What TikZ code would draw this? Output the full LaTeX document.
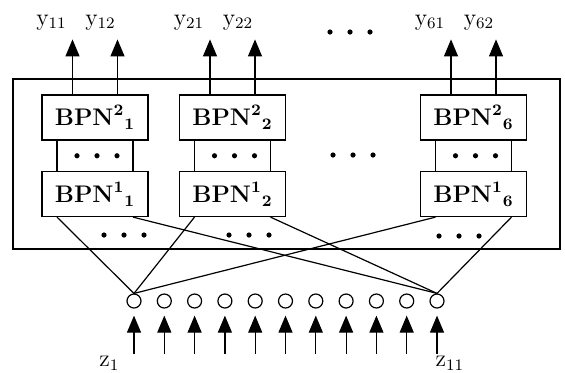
\documentclass[tikz,border=0pt]{standalone}
\usepackage{amsmath}
\usepackage{amssymb}
\usetikzlibrary{arrows.meta,calc}

\newcommand{\bpnlabel}[2]{$\mathbf{BPN}^{\mathbf{#1}}{}_{\mathbf{#2}}$}
\newcommand{\dotrow}[1]{\foreach \d in {-20,0,20} \fill ($(#1)+(\d,0)$) circle (2.6);}

\tikzset{
  bpnbox/.style={draw,line width=0.6pt,minimum width=53pt,minimum height=22.5pt,
    inner sep=0pt,font=\fontsize{11.6}{13}\selectfont},
  unit/.style={draw,circle,minimum size=7pt,inner sep=0pt,line width=0.6pt},
  arr/.style={-{Triangle[width=7pt,length=8.5pt]},line width=0.6pt},
  lbl/.style={inner sep=0pt,font=\fontsize{11.5}{13}\selectfont},
}

\begin{document}
\begin{tikzpicture}[x=0.5pt,y=-0.5pt,line width=0.6pt]
  \useasboundingbox (0,0) rectangle (565,372);
  \draw (13,79) rectangle (560,249);

  % the modules, two layers each
  \foreach \i/\cx in {1/95,2/232.5,6/473.5}{
    \node[bpnbox] (hi\i) at (\cx,117.5) {\bpnlabel{2}{\i}};
    \node[bpnbox] (lo\i) at (\cx,194) {\bpnlabel{1}{\i}};
    \draw ($(hi\i.south)+(-38,0)$) -- ($(lo\i.north)+(-38,0)$);
    \draw ($(hi\i.south)+(38,0)$) -- ($(lo\i.north)+(38,0)$);
    \coordinate (m\i) at ($(hi\i.south)!0.5!(lo\i.north)+(2,0)$);
    \dotrow{m\i}
    % outputs
    \coordinate (o\i a) at ($(hi\i.north)+(-22.5,-55)$);
    \coordinate (o\i b) at ($(hi\i.north)+(22.5,-55)$);
    \draw[arr] (hi\i.north -| o\i a) -- (o\i a);
    \draw[arr] (hi\i.north -| o\i b) -- (o\i b);
    \node[lbl] at ($(o\i a)+(-21,-17)$) {$\mathrm{y}_{\i1}$};
    \node[lbl] at ($(o\i b)+(-17,-17)$) {$\mathrm{y}_{\i2}$};
  }

  \coordinate (dtop) at (350,32);
  \coordinate (dmid) at (353,155);
  \coordinate (dl1) at (124,235);
  \coordinate (dl2) at (249,235);
  \coordinate (dl6) at (459,236);
  \dotrow{dtop}
  \dotrow{dmid}
  \dotrow{dl1}
  \dotrow{dl2}
  \dotrow{dl6}

  % input units
  \foreach \k in {1,...,11}{
    \node[unit] (c\k) at ({134+30.3*(\k-1)},301) {};
    \coordinate (z\k) at ($(c\k.south)+(0,45)$);
    \draw[arr,shorten >=3.5pt] (z\k) -- (c\k);
  }
  \node[lbl,anchor=north east,xshift=-7pt,yshift=-1pt] (zl1) at (z1) {$\mathrm{z}_1$};
  \node[lbl,anchor=north west,xshift=-1pt,yshift=-1pt] (zl11) at (z11) {$\mathrm{z}_{11}$};

  \foreach \i in {1,2,6}{
    \draw (c1.north) -- ($(lo\i.south)+(-38,0)$);
    \draw (c11.north) -- ($(lo\i.south)+(38,0)$);
  }
\end{tikzpicture}
\end{document}
